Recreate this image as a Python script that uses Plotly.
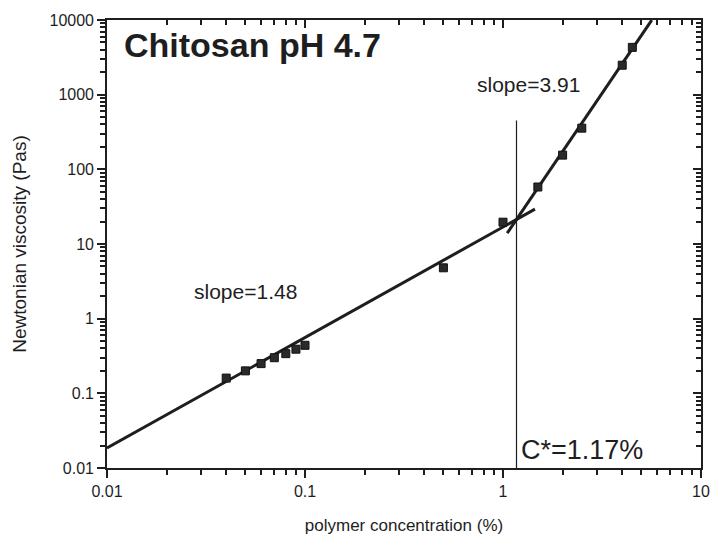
import numpy as np
import plotly.graph_objects as go

# Measured Newtonian viscosity of chitosan solutions (pH 4.7)
conc = [0.04, 0.05, 0.06, 0.07, 0.08, 0.09, 0.10, 0.5, 1.0, 1.5, 2.0, 2.5, 4.0, 4.5]
visc = [0.16, 0.20, 0.25, 0.30, 0.34, 0.39, 0.44, 4.8, 19.6, 58, 155, 356, 2480, 4300]

# Power-law fits on either side of the critical concentration
c_star = 1.17
slope_dilute = 1.48
slope_conc = 3.91
visc_at_cstar = 21.3
dilute_span = [0.01, 1.45]
conc_span = [1.05, 5.64]
cstar_line_top = 450

x_ticks = [0.01, 0.1, 1, 10]
x_labels = ["0.01", "0.1", "1", "10"]
y_ticks = [0.01, 0.1, 1, 10, 100, 1000, 10000]
y_labels = ["0.01", "0.1", "1", "10", "100", "1000", "10000"]

def power_law(xs, slope):
    xs = np.array(xs)
    return visc_at_cstar * (xs / c_star) ** slope

def minor_positions(decades):
    return [m * 10.0 ** d for d in decades for m in range(2, 10)]

x_minor = minor_positions(range(-2, 1))
y_minor = minor_positions(range(-2, 4))

ink = "#1e1e1e"
font_family = "Liberation Sans, Arial, sans-serif"

fig = go.Figure()

fig.add_trace(go.Scatter(
    x=dilute_span, y=power_law(dilute_span, slope_dilute),
    mode="lines", line=dict(color=ink, width=3), showlegend=False, hoverinfo="skip"))
fig.add_trace(go.Scatter(
    x=conc_span, y=power_law(conc_span, slope_conc),
    mode="lines", line=dict(color=ink, width=3), showlegend=False, hoverinfo="skip"))
fig.add_trace(go.Scatter(
    x=[c_star, c_star], y=[0.01, cstar_line_top],
    mode="lines", line=dict(color=ink, width=1.2), showlegend=False, hoverinfo="skip"))
fig.add_trace(go.Scatter(
    x=conc, y=visc, mode="markers",
    marker=dict(symbol="square", size=8, color="#2a2a2a",
                line=dict(color="#111111", width=1)),
    showlegend=False))

# Extra overlaid axes carry the mirrored frame and its minor ticks
for xa, ya in [("x2", "y2"), ("x4", "y4")]:
    fig.add_trace(go.Scatter(x=[0.01], y=[0.01], xaxis=xa, yaxis=ya,
                             mode="markers", marker=dict(opacity=0),
                             showlegend=False, hoverinfo="skip"))

tickfont = dict(family=font_family, size=16, color=ink)
base = dict(type="log", showgrid=False, zeroline=False, automargin=False,
            tickcolor=ink, tickwidth=1.6, tickmode="array")
x_base = dict(**base, range=[-2, 1])
y_base = dict(**base, range=[-2, 4])
frame = dict(showline=True, linecolor=ink, linewidth=1.6)

fig.update_layout(
    width=711, height=544,
    margin=dict(l=107, r=10, t=20, b=76),
    paper_bgcolor="white", plot_bgcolor="white",
    # main axes: bottom / left, outward ticks with labels
    xaxis=dict(**x_base, **frame, ticks="outside", ticklen=8,
               tickvals=x_ticks, ticktext=x_labels, tickfont=tickfont,
               minor=dict(ticks="outside", ticklen=5, tickcolor=ink, tickwidth=1.6,
                          tickmode="array", tickvals=x_minor, showgrid=False),
               title=dict(text="polymer concentration (%)",
                          font=dict(family=font_family, size=17, color=ink),
                          standoff=20)),
    yaxis=dict(**y_base, **frame, ticks="outside", ticklen=8,
               tickvals=y_ticks, ticktext=y_labels, tickfont=tickfont,
               minor=dict(ticks="outside", ticklen=5, tickcolor=ink, tickwidth=1.6,
                          tickmode="array", tickvals=y_minor, showgrid=False),
               title=dict(text="Newtonian viscosity (Pas)",
                          font=dict(family=font_family, size=19, color=ink),
                          standoff=18)),
    # top / right frame with inward major ticks
    xaxis2=dict(**x_base, **frame, overlaying="x", side="top",
                ticks="inside", ticklen=8, tickvals=x_ticks, showticklabels=False),
    yaxis2=dict(**y_base, **frame, overlaying="y", side="right",
                ticks="inside", ticklen=8, tickvals=y_ticks, showticklabels=False),
    # inward minor ticks on top / right
    xaxis4=dict(**x_base, overlaying="x", side="top", showline=False,
                ticks="inside", ticklen=5, tickvals=x_minor, showticklabels=False),
    yaxis4=dict(**y_base, overlaying="y", side="right", showline=False,
                ticks="inside", ticklen=5, tickvals=y_minor, showticklabels=False),
)

fig.add_annotation(text="<b>Chitosan pH 4.7</b>", xref="paper", yref="paper",
                   x=0.025, y=0.944, xanchor="left", yanchor="middle",
                   showarrow=False,
                   font=dict(family=font_family, size=34, color=ink))
fig.add_annotation(text="slope=%.2f" % slope_conc, xref="paper", yref="paper",
                   x=0.710, y=0.855, xanchor="center", yanchor="middle",
                   showarrow=False, font=dict(family=font_family, size=21, color=ink))
fig.add_annotation(text="slope=%.2f" % slope_dilute, xref="paper", yref="paper",
                   x=0.234, y=0.395, xanchor="center", yanchor="middle",
                   showarrow=False, font=dict(family=font_family, size=21, color=ink))
fig.add_annotation(text="C*=%.2f%%" % c_star, xref="paper", yref="paper",
                   x=0.694, y=0.040, xanchor="left", yanchor="middle",
                   showarrow=False, font=dict(family=font_family, size=27, color=ink))

fig.write_html("out.html")
